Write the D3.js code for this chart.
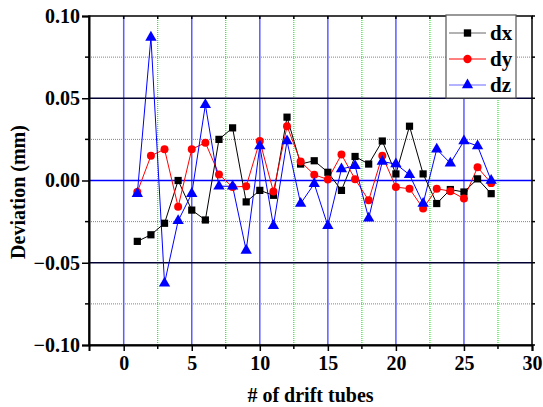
<!DOCTYPE html>
<html lang="en">
<head>
  <meta charset="UTF-8">
  <title>Deviation of drift tubes</title>
  <script src="https://d3js.org/d3.v7.min.js"></script>
  <style>
    body { margin: 0; background: #fff; }
    svg { display: block; }
  </style>
</head>
<body>
  <svg width="543" height="407"></svg>
  <script>
    // tube numbers and the three deviation series (mm)
    const tubes = d3.range(1, 28);
    const dx = [-0.037, -0.033, -0.026, 0.000, -0.018, -0.024, 0.025, 0.032, -0.013, -0.006,
                -0.009, 0.0385, 0.010, 0.012, 0.005, -0.006, 0.0146, 0.010, 0.024, 0.004,
                0.033, 0.004, -0.014, -0.0055, -0.007, 0.001, -0.008];
    const dy = [-0.007, 0.015, 0.019, -0.016, 0.019, 0.023, 0.0037, -0.004, -0.0035, 0.024,
                -0.0067, 0.033, 0.0115, 0.0035, 0.0006, 0.0158, 0.0008, -0.012, 0.015, -0.004,
                -0.005, -0.017, -0.005, -0.0065, -0.011, 0.008, -0.0016];
    const dz = [-0.008, 0.087, -0.0625, -0.0245, -0.008, 0.046, -0.0035, -0.0035, -0.0425, 0.021,
                -0.0275, 0.024, -0.014, -0.002, -0.0275, 0.007, 0.009, -0.023, 0.0115, 0.010,
                0.0035, -0.014, 0.019, 0.0105, 0.024, 0.021, 0.000];
    const xTicks = [0, 5, 10, 15, 20, 25, 30];
    const yTicks = [-0.10, -0.05, 0.00, 0.05, 0.10];

    const series = [
      { name: "dx", values: dx, color: "#000", legendLine: "#666", shape: d3.symbolSquare },
      { name: "dy", values: dy, color: "#ff0000", legendLine: "#ff0000", shape: d3.symbolCircle },
      { name: "dz", values: dz, color: "#0000ff", legendLine: "#6666ff", shape: d3.symbolTriangle }
    ];

    const FONT = "Liberation Serif";
    const margin = { left: 89, right: 11, top: 16, bottom: 62 };
    const width = 543, height = 407;
    const svg = d3.select("svg");

    const x = d3.scaleLinear().domain([-2.55, 30]).range([margin.left, width - margin.right]);
    const y = d3.scaleLinear().domain([-0.10, 0.10]).range([height - margin.bottom, margin.top]);

    const g = svg.append("g");

    // minor grid (green dotted)
    const xMinor = d3.range(2.5, 30, 5);
    const yMinor = [-0.075, -0.025, 0.025, 0.075];
    g.selectAll(".gxm").data(xMinor).join("line")
      .attr("x1", d => x(d)).attr("x2", d => x(d))
      .attr("y1", y(-0.10)).attr("y2", y(0.10))
      .attr("stroke", "#00e000").attr("stroke-width", 1).attr("stroke-dasharray", "1,1");
    g.selectAll(".gym").data(yMinor).join("line")
      .attr("x1", x(-2.55)).attr("x2", x(30))
      .attr("y1", d => y(d)).attr("y2", d => y(d))
      .attr("stroke", "#00e000").attr("stroke-width", 1).attr("stroke-dasharray", "1,1");

    // major grid
    g.selectAll(".gx").data(xTicks.slice(0, -1)).join("line")
      .attr("x1", d => x(d)).attr("x2", d => x(d))
      .attr("y1", y(-0.10)).attr("y2", y(0.10))
      .attr("stroke", "#5c5cff").attr("stroke-width", 1.5);
    g.selectAll(".gy").data(yTicks.slice(1, -1)).join("line")
      .attr("x1", x(-2.55)).attr("x2", x(30))
      .attr("y1", d => y(d)).attr("y2", d => y(d))
      .attr("stroke", d => d === 0 ? "#0000ff" : "#000033").attr("stroke-width", 1.3);

    // series
    for (const s of series) {
      const pts = tubes.map((t, i) => [t, s.values[i]]);
      g.append("path")
        .datum(pts)
        .attr("fill", "none")
        .attr("stroke", s.color)
        .attr("stroke-width", 1)
        .attr("d", d3.line().x(d => x(d[0])).y(d => y(d[1])));
    }
    for (const s of series) {
      const size = s.shape === d3.symbolTriangle ? 56 : s.shape === d3.symbolCircle ? 50 : 52;
      g.selectAll(null)
        .data(tubes.map((t, i) => [t, s.values[i]]))
        .join("path")
        .attr("transform", d => `translate(${x(d[0])},${y(d[1])})`)
        .attr("d", d3.symbol(s.shape, size))
        .attr("fill", s.color);
    }

    // frame
    g.append("rect")
      .attr("x", x(-2.55)).attr("y", y(0.10))
      .attr("width", x(30) - x(-2.55)).attr("height", y(-0.10) - y(0.10))
      .attr("fill", "none").attr("stroke", "#000").attr("stroke-width", 1.5);

    // axes
    const xAxis = d3.axisBottom(x).tickValues(xTicks).tickSize(6).tickFormat(d3.format("d"));
    const yAxis = d3.axisLeft(y).tickValues(yTicks).tickSize(7).tickFormat(d3.format(".2f"));

    const gx = svg.append("g").attr("transform", `translate(0,${y(-0.10)})`).call(xAxis);
    const gy = svg.append("g").attr("transform", `translate(${x(-2.55)},0)`).call(yAxis);
    for (const a of [gx, gy]) {
      a.attr("font-family", FONT).attr("font-size", 20).attr("font-weight", "bold");
      a.select(".domain").attr("stroke-width", 2);
      a.selectAll(".tick line").attr("stroke-width", 1.5);
      a.selectAll(".tick text").attr("fill", "#000");
    }
    gx.selectAll(".tick text").attr("y", 9).attr("dy", "0.8em");
    gy.selectAll(".tick text").attr("x", -9);

    // minor ticks
    svg.append("g").selectAll("line").data(yMinor).join("line")
      .attr("x1", x(-2.55) - 4).attr("x2", x(-2.55))
      .attr("y1", d => y(d)).attr("y2", d => y(d))
      .attr("stroke", "#000").attr("stroke-width", 1.5);
    svg.append("g").selectAll("line").data(xMinor).join("line")
      .attr("x1", d => x(d)).attr("x2", d => x(d))
      .attr("y1", y(-0.10)).attr("y2", y(-0.10) + 4)
      .attr("stroke", "#000").attr("stroke-width", 1.5);
    // right & top ticks
    svg.append("g").selectAll("line").data(yTicks.concat(yMinor)).join("line")
      .attr("x1", x(30)).attr("x2", x(30) + 3)
      .attr("y1", d => y(d)).attr("y2", d => y(d))
      .attr("stroke", "#000").attr("stroke-width", 1.5);
    svg.append("g").selectAll("line").data(xTicks.concat(xMinor)).join("line")
      .attr("x1", d => x(d)).attr("x2", d => x(d))
      .attr("y1", y(0.10)).attr("y2", y(0.10) + 3)
      .attr("stroke", "#000").attr("stroke-width", 1.5);

    // axis titles
    svg.append("text")
      .attr("x", (x(-2.55) + x(30)) / 2).attr("y", 402)
      .attr("text-anchor", "middle")
      .attr("font-family", FONT).attr("font-weight", "bold").attr("font-size", 20)
      .text("# of drift tubes");
    svg.append("text")
      .attr("transform", "translate(25,192) rotate(-90)")
      .attr("text-anchor", "middle")
      .attr("font-family", FONT).attr("font-weight", "bold").attr("font-size", 20)
      .text("Deviation (mm)");

    // legend
    const lg = svg.append("g").attr("transform", "translate(446,15)");
    lg.append("rect").attr("width", 70).attr("height", 83)
      .attr("fill", "#fff").attr("stroke", "#555").attr("stroke-width", 1.2);
    series.forEach((s, i) => {
      const yy = 18 + i * 26;
      lg.append("line").attr("x1", 3).attr("x2", 40).attr("y1", yy).attr("y2", yy)
        .attr("stroke", s.legendLine).attr("stroke-width", 1);
      lg.append("path").attr("transform", `translate(21.5,${yy})`)
        .attr("d", d3.symbol(s.shape, 54)).attr("fill", s.color);
      lg.append("text").attr("x", 44).attr("y", yy).attr("dy", "0.35em")
        .attr("font-family", FONT).attr("font-weight", "bold").attr("font-size", 21)
        .text(s.name);
    });
  </script>
</body>
</html>
